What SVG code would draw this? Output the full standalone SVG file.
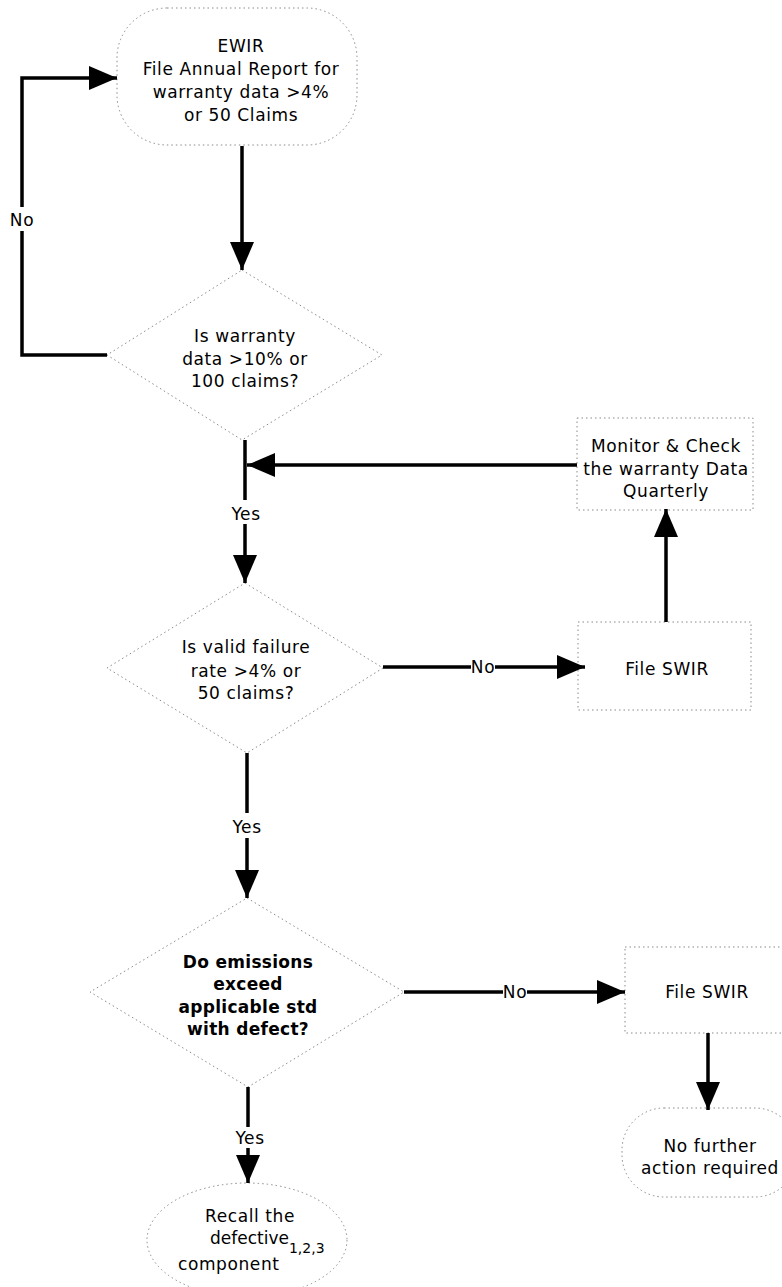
<svg xmlns="http://www.w3.org/2000/svg" width="782" height="1287" viewBox="0 0 782 1287">
<style>
.shape{fill:#fff;stroke:#8a8a8a;stroke-width:1;stroke-dasharray:1.5 3}
.t{font-family:"DejaVu Sans",Verdana,sans-serif;font-size:17px;letter-spacing:0.6px;fill:#000;text-anchor:middle}
.b{font-weight:bold;letter-spacing:0.3px}
.c{fill:none;stroke:#000;stroke-width:3.5}
.lbl{font-family:"DejaVu Sans",Verdana,sans-serif;font-size:17px;letter-spacing:0.6px;fill:#000;text-anchor:middle}
</style>
<defs>
<marker id="ah" viewBox="0 0 28 24" refX="28" refY="12" markerWidth="28" markerHeight="24" markerUnits="userSpaceOnUse" orient="auto">
<path d="M0,0 L28,12 L0,24 z" fill="#000"/>
</marker>
</defs>
<rect width="782" height="1287" fill="#fff"/>

<g id="ewir">
<rect class="shape" x="117" y="8" width="240" height="137" rx="50" ry="50"/>
<text class="t" x="241" y="52">EWIR</text>
<text class="t" x="241" y="75">File Annual Report for</text>
<text class="t" x="241" y="98">warranty data &gt;4%</text>
<text class="t" x="241" y="121">or 50 Claims</text>
</g>

<g id="dec1">
<polygon class="shape" points="242,270 382,355 242,440 107,355"/>
<text class="t" x="245" y="342">Is warranty</text>
<text class="t" x="245" y="365">data &gt;10% or</text>
<text class="t" x="245" y="387">100 claims?</text>
</g>

<g id="monitor">
<rect class="shape" x="577" y="418" width="176" height="92"/>
<text class="t" x="666" y="452">Monitor &amp; Check</text>
<text class="t" x="666" y="475">the warranty Data</text>
<text class="t" x="666" y="497">Quarterly</text>
</g>

<g id="swir1">
<rect class="shape" x="578" y="622" width="173" height="88"/>
<text class="t" x="667" y="675">File SWIR</text>
</g>

<g id="dec2">
<polygon class="shape" points="245,583 383,668 247,753 107,668"/>
<text class="t" x="246" y="653">Is valid failure</text>
<text class="t" x="246" y="677">rate &gt;4% or</text>
<text class="t" x="246" y="699">50 claims?</text>
</g>

<g id="dec3">
<polygon class="shape" points="247,898 404,992 248,1087 90,992"/>
<text class="t b" x="248" y="968">Do emissions</text>
<text class="t b" x="248" y="990">exceed</text>
<text class="t b" x="248" y="1013">applicable std</text>
<text class="t b" x="248" y="1035">with defect?</text>
</g>

<g id="swir2">
<rect class="shape" x="625" y="947" width="170" height="86"/>
<text class="t" x="707" y="998">File SWIR</text>
</g>

<g id="nofurther">
<rect class="shape" x="622" y="1108" width="175" height="89" rx="42" ry="42"/>
<text class="t" x="710" y="1152">No further</text>
<text class="t" x="710" y="1174">action required</text>
</g>

<g id="recall">
<ellipse class="shape" cx="247" cy="1240" rx="100" ry="57"/>
<text class="t" x="250" y="1222">Recall the</text>
<text class="t" x="210" y="1244" style="text-anchor:start;letter-spacing:0">defective<tspan font-size="14" dy="9">1,2,3</tspan></text>
<text class="t" x="178" y="1270" style="text-anchor:start">component</text>
</g>

<g id="connectors">
<path class="c" d="M242,146 V270" marker-end="url(#ah)"/>
<path class="c" d="M107,355 H22 V231"/>
<path class="c" d="M22,207 V78 H117" marker-end="url(#ah)"/>
<text class="lbl" x="22" y="226">No</text>
<path class="c" d="M245,440 V500"/>
<text class="lbl" x="246" y="520">Yes</text>
<path class="c" d="M245,524 V583" marker-end="url(#ah)"/>
<path class="c" d="M577,465 H247" marker-end="url(#ah)"/>
<path class="c" d="M383,667 H585" marker-end="url(#ah)"/>
<rect x="471" y="657" width="24" height="18" fill="#fff"/>
<text class="lbl" x="483" y="673">No</text>
<path class="c" d="M666,622 V509" marker-end="url(#ah)"/>
<path class="c" d="M247,753 V813"/>
<text class="lbl" x="247" y="833">Yes</text>
<path class="c" d="M247,838 V898" marker-end="url(#ah)"/>
<path class="c" d="M404,992 H625" marker-end="url(#ah)"/>
<rect x="503" y="982" width="24" height="18" fill="#fff"/>
<text class="lbl" x="515" y="998">No</text>
<path class="c" d="M708,1033 V1110" marker-end="url(#ah)"/>
<path class="c" d="M248,1087 V1127"/>
<text class="lbl" x="250" y="1144">Yes</text>
<path class="c" d="M248,1148 V1183" marker-end="url(#ah)"/>
</g>
</svg>
